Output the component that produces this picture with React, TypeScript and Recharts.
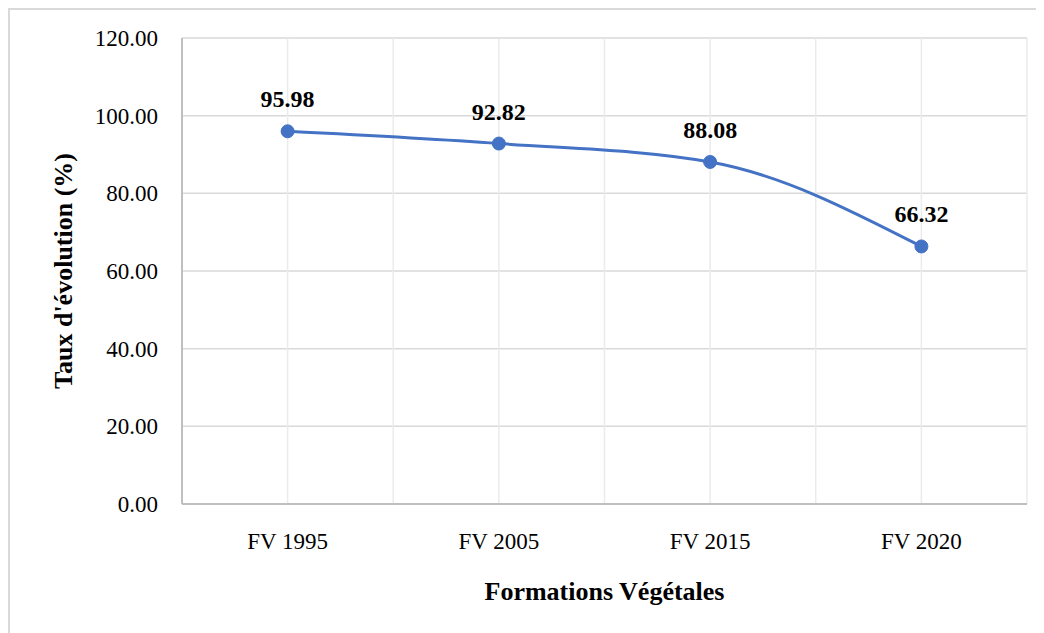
import React from 'react';
import { LineChart, Line, XAxis, YAxis, CartesianGrid, LabelList, Label } from 'recharts';

const categories = ['FV 1995', 'FV 2005', 'FV 2015', 'FV 2020'];
const taux = [95.98, 92.82, 88.08, 66.32];
const yTicks = [0, 20, 40, 60, 80, 100, 120];

const data = categories.map((name, i) => ({ name, taux: taux[i] }));

const serif = '"Liberation Serif", "Times New Roman", serif';

const YTitle = (props: any) => {
  const { viewBox } = props;
  const x = viewBox.x + 53;
  const y = viewBox.y + viewBox.height / 2;
  return (
    <text
      x={x}
      y={y}
      transform={`rotate(-90, ${x}, ${y})`}
      textAnchor="middle"
      dominantBaseline="central"
      fontFamily={serif}
      fontWeight="bold"
      fontSize={26}
      fill="#000"
    >
      Taux d'évolution (%)
    </text>
  );
};

export default function App() {
  return (
    <div style={{ borderLeft: '2px solid #d9d9d9', borderTop: '2px solid #d9d9d9', width: 1034, height: 623 }}>
      <LineChart width={1034} height={623} data={data} margin={{ top: 28, right: 17, left: 0, bottom: 19 }}>
        <CartesianGrid horizontal={true} vertical={false} stroke="#d9d9d9" strokeWidth={1.5} />
        <CartesianGrid
          horizontal={false}
          vertical={true}
          stroke="#ebebeb"
          strokeWidth={1.5}
          verticalCoordinatesGenerator={({ offset }: any) =>
            Array.from({ length: 9 }, (_, i) => offset.left + (i * offset.width) / 8)
          }
        />
        <XAxis
          dataKey="name"
          height={110}
          padding={{ left: 105.6, right: 105.6 }}
          tickLine={false}
          tickMargin={23}
          axisLine={{ stroke: '#bfbfbf', strokeWidth: 2 }}
          tick={{ fontFamily: serif, fontSize: 23, fill: '#000' }}
        >
          <Label
            value="Formations Végétales"
            position="insideBottom"
            offset={14}
            style={{ fontFamily: serif, fontWeight: 'bold', fontSize: 26, fill: '#000' }}
          />
        </XAxis>
        <YAxis
          width={172}
          domain={[0, 120]}
          ticks={yTicks}
          interval={0}
          tickLine={false}
          tickMargin={18}
          tickFormatter={(v: number) => v.toFixed(2)}
          axisLine={{ stroke: '#bfbfbf', strokeWidth: 2 }}
          tick={{ fontFamily: serif, fontSize: 23, fill: '#000' }}
          label={<YTitle />}
        />
        <Line
          type="monotone"
          dataKey="taux"
          stroke="#4472C4"
          strokeWidth={3}
          dot={{ r: 6.5, fill: '#4472C4', stroke: '#4472C4', strokeWidth: 1 }}
          isAnimationActive={false}
        >
          <LabelList
            dataKey="taux"
            position="top"
            offset={24}
            formatter={(v: any) => Number(v).toFixed(2)}
            style={{ fontFamily: serif, fontWeight: 'bold', fontSize: 24, fill: '#000' }}
          />
        </Line>
      </LineChart>
    </div>
  );
}
